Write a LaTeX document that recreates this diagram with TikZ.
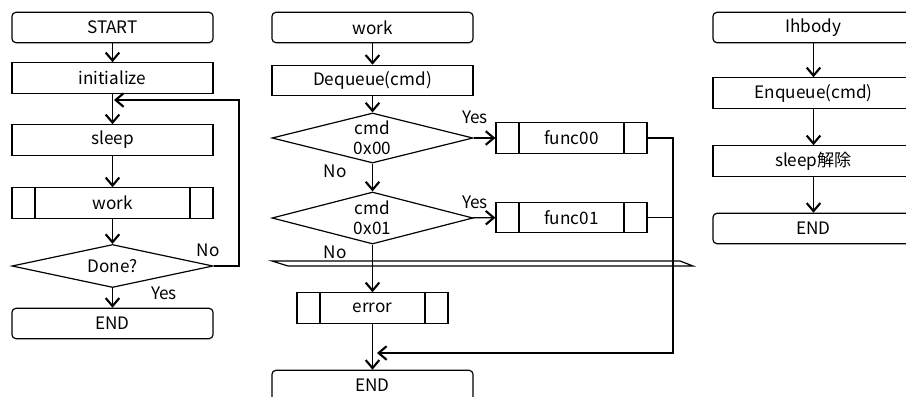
\documentclass[tikz,border=0pt]{standalone}
\usepackage{fontspec}
\setmainfont{Noto Sans CJK JP}
\usetikzlibrary{shapes.geometric,arrows.meta}
\tikzset{
  box/.style={draw,line width=.85pt,minimum width=5.025cm,minimum height=.76cm,inner sep=0pt},
  term/.style={box,rounded corners=.1cm},
  proc/.style={box},
  sub/.style={box,minimum width=3.775cm,
    path picture={
      \draw[line width=.85pt] ([xshift=.575cm]path picture bounding box.north west) -- ([xshift=.575cm]path picture bounding box.south west);
      \draw[line width=.85pt] ([xshift=-.575cm]path picture bounding box.north east) -- ([xshift=-.575cm]path picture bounding box.south east);}},
  decide/.style={draw,diamond,aspect=4,line width=.85pt,inner sep=0pt,align=center,minimum width=5.025cm,
    font=\fontsize{12.2}{14.5}\selectfont},
  flow/.style={line width=.85pt,-{Straight Barb[length=.2cm,width=.34cm,line width=1.5pt]}},
  link/.style={line width=.85pt},
  lbl/.style={inner sep=0pt}
}
\begin{document}
\begin{tikzpicture}[x=0.025cm,y=-0.025cm,font=\fontsize{12.2}{13.5}\selectfont]
\path[use as bounding box] (0,0) rectangle (906,396);
\begin{scope}
\clip (0,0) rectangle (906,396);
% main loop
\node[term] (start) at (112.5,27.5) {START};
\node[proc] (init) at (112.5,78) {initialize};
\node[proc] (sleep) at (112.5,140) {sleep};
\node[sub,minimum width=5.025cm] (wk) at (112.5,203) {work};
\node[decide,minimum height=1.075cm] (done) at (112.5,266) {Done?};
\node[term] (end1) at (112.5,323.5) {END};
\coordinate (lp) at (114,100);
\coordinate (lx) at (239,266);
\draw[flow] (start) -- (init);
\draw[flow] (init) -- (sleep);
\draw[flow] (sleep) -- (wk);
\draw[flow] (wk) -- (done);
\draw[flow] (done) -- (end1);
\draw[flow] (done.east) -- (lx) |- (lp);
\node[lbl] at (208,250) {No};
\node[lbl] at (164,293) {Yes};
% work
\node[term] (work) at (372.5,27.5) {work};
\node[proc] (deq) at (372.5,80.5) {Dequeue(cmd)};
\node[decide,minimum height=1.25cm] (d0) at (372.5,138) {cmd\\0x00};
\node[sub] (f0) at (571.5,138) {func00};
\node[decide,minimum height=1.3cm] (d1) at (372.5,218) {cmd\\0x01};
\node[sub] (f1) at (571.5,217.5) {func01};
\node[sub] (err) at (372.5,308) {error};
\node[term] (end2) at (372.5,385.5) {END};
\coordinate (rx) at (673,138);
\coordinate (jn) at (377,353);
\draw[flow] (work) -- (deq);
\draw[flow] (deq) -- (d0);
\draw[flow] (d0) -- (f0);
\draw[flow] (d0) -- (d1);
\draw[flow] (d1) -- (f1);
\draw[flow] (d1) -- (err);
\draw[flow] (err) -- (end2);
\draw[flow] (f0.east) -- (rx) |- (jn);
\draw[link] (f1.east) -- (f1.east -| rx);
\draw[line width=.85pt] (272,261) -- (680,261) -- (693,266) -- (288,266) -- cycle;
\node[lbl] at (475,117) {Yes};
\node[lbl] at (335,171) {No};
\node[lbl] at (475,202) {Yes};
\node[lbl] at (335,252) {No};
% lhbody
\node[term] (ih) at (813.5,27.5) {Ihbody};
\node[proc] (enq) at (813.5,93) {Enqueue(cmd)};
\node[proc] (slp) at (813.5,161) {sleep解除};
\node[term] (end3) at (813.5,228.5) {END};
\draw[flow] (ih) -- (enq);
\draw[flow] (enq) -- (slp);
\draw[flow] (slp) -- (end3);
\end{scope}
\end{tikzpicture}
\end{document}
